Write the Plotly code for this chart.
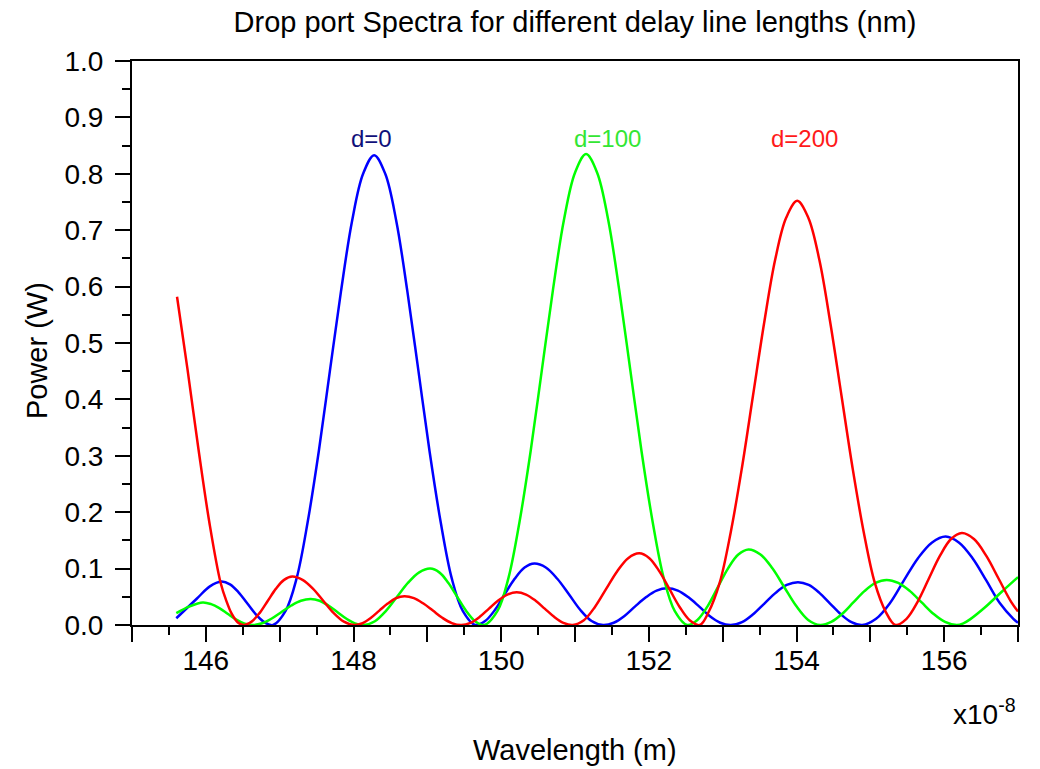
import plotly.graph_objects as go

# ---- data (wavelength in units of 1e-8 m, power in W) ----
blue_x = [145.60, 145.88, 146.05, 146.21, 146.327, 146.443, 146.56, 146.677, 146.793, 146.91,
          147.08, 147.23, 147.38, 147.53, 147.68, 147.83, 147.98, 148.13, 148.28,
          148.43, 148.58, 148.73, 148.88, 149.03, 149.18, 149.33, 149.48, 149.65,
          149.783, 149.917, 150.05, 150.183, 150.317, 150.45,
          150.605, 150.76, 150.915, 151.07, 151.225, 151.38,
          151.525, 151.67, 151.815, 151.96, 152.105, 152.25,
          152.393, 152.537, 152.68, 152.823, 152.967, 153.11,
          153.262, 153.413, 153.565, 153.717, 153.868, 154.02,
          154.165, 154.31, 154.455, 154.60, 154.745, 154.89,
          155.078, 155.267, 155.455, 155.643, 155.832, 156.02,
          156.203, 156.387, 156.57, 156.753, 156.937, 157.00]
blue_y = [0.012, 0.047, 0.068, 0.077, 0.072, 0.058, 0.0385, 0.019, 0.005, 0.000,
          0.025, 0.083, 0.183, 0.308, 0.450, 0.591, 0.716, 0.800, 0.833,
          0.800, 0.716, 0.591, 0.450, 0.308, 0.183, 0.083, 0.025, 0.000,
          0.007, 0.027, 0.055, 0.082, 0.102, 0.109,
          0.102, 0.082, 0.055, 0.027, 0.007, 0.000,
          0.004, 0.016, 0.033, 0.049, 0.061, 0.065,
          0.061, 0.049, 0.033, 0.016, 0.004, 0.000,
          0.005, 0.019, 0.038, 0.057, 0.071, 0.076,
          0.071, 0.057, 0.038, 0.019, 0.005, 0.000,
          0.011, 0.039, 0.079, 0.118, 0.146, 0.157,
          0.146, 0.118, 0.079, 0.039, 0.011, 0.004]

green_x = [145.60, 145.78, 145.96, 146.072, 146.183, 146.295, 146.407, 146.518, 146.63,
           146.762, 146.893, 147.025, 147.157, 147.288, 147.42,
           147.54, 147.66, 147.78, 147.90, 148.02, 148.14,
           148.29, 148.44, 148.59, 148.74, 148.89, 149.04,
           149.162, 149.283, 149.405, 149.527, 149.648, 149.77,
           149.95, 150.10, 150.25, 150.40, 150.55, 150.70, 150.85, 151.00, 151.15,
           151.30, 151.45, 151.60, 151.75, 151.90, 152.05, 152.20, 152.35, 152.52,
           152.658, 152.797, 152.935, 153.073, 153.212, 153.35,
           153.512, 153.673, 153.835, 153.997, 154.158, 154.32,
           154.47, 154.62, 154.77, 154.92, 155.07, 155.22,
           155.378, 155.537, 155.695, 155.853, 156.012, 156.17,
           156.26, 156.35, 156.55, 156.78, 157.00]
green_y = [0.021, 0.033, 0.040, 0.037, 0.030, 0.020, 0.010, 0.003, 0.000,
           0.003, 0.0115, 0.023, 0.0345, 0.043, 0.046,
           0.043, 0.0345, 0.023, 0.0115, 0.003, 0.000,
           0.0067, 0.025, 0.050, 0.075, 0.0933, 0.100,
           0.0933, 0.075, 0.050, 0.025, 0.0067, 0.000,
           0.025, 0.084, 0.184, 0.309, 0.451, 0.593, 0.718, 0.802, 0.835,
           0.802, 0.718, 0.593, 0.451, 0.309, 0.184, 0.084, 0.025, 0.000,
           0.009, 0.0335, 0.067, 0.1005, 0.125, 0.134,
           0.125, 0.1005, 0.067, 0.0335, 0.009, 0.000,
           0.0054, 0.020, 0.040, 0.060, 0.0746, 0.080,
           0.0746, 0.060, 0.040, 0.020, 0.0054, 0.000,
           0.003, 0.010, 0.031, 0.059, 0.085]

red_x = [145.61, 145.75, 145.90, 146.05, 146.20, 146.28, 146.35, 146.43, 146.51,
         146.62, 146.73, 146.84, 146.95, 147.06, 147.17,
         147.31, 147.45, 147.59, 147.73, 147.87, 148.01,
         148.123, 148.237, 148.35, 148.463, 148.577, 148.69,
         148.818, 148.947, 149.075, 149.203, 149.332, 149.46,
         149.585, 149.71, 149.835, 149.96, 150.085, 150.21,
         150.337, 150.463, 150.59, 150.717, 150.843, 150.97,
         151.12, 151.27, 151.42, 151.57, 151.72, 151.87,
         152.007, 152.143, 152.28, 152.417, 152.553, 152.69,
         152.81, 152.96, 153.11, 153.26, 153.41, 153.56, 153.71, 153.86, 154.01,
         154.16, 154.31, 154.46, 154.61, 154.76, 154.91, 155.06, 155.21, 155.34,
         155.49, 155.64, 155.79, 155.94, 156.09, 156.24,
         156.407, 156.573, 156.74, 156.907, 157.00]
red_y = [0.582, 0.455, 0.312, 0.180, 0.075, 0.042, 0.020, 0.005, 0.000,
         0.006, 0.0215, 0.043, 0.0645, 0.080, 0.086,
         0.080, 0.0645, 0.043, 0.0215, 0.006, 0.000,
         0.0034, 0.0128, 0.0255, 0.038, 0.0476, 0.051,
         0.0476, 0.038, 0.0255, 0.0128, 0.0034, 0.000,
         0.0039, 0.0145, 0.029, 0.0435, 0.054, 0.058,
         0.054, 0.0435, 0.029, 0.0145, 0.0039, 0.000,
         0.0085, 0.032, 0.0635, 0.095, 0.1185, 0.127,
         0.1185, 0.095, 0.0635, 0.032, 0.0085, 0.000,
         0.023, 0.075, 0.165, 0.278, 0.406, 0.534, 0.647, 0.722, 0.752,
         0.722, 0.647, 0.534, 0.406, 0.278, 0.165, 0.075, 0.023, 0.000,
         0.011, 0.041, 0.0815, 0.122, 0.152, 0.163,
         0.152, 0.122, 0.0815, 0.041, 0.024]

labels = ["d=0", "d=100", "d=200"]
label_x = [148.25, 151.44, 154.11]
label_y = [0.863, 0.863, 0.863]

x_major = list(range(145, 158))
x_text = [str(v) if v % 2 == 0 else "" for v in x_major]

FONT = "Arial, Liberation Sans, sans-serif"

fig = go.Figure()
series = [(blue_x, blue_y, "#0000ff"), (green_x, green_y, "#00ff00"), (red_x, red_y, "#ff0000")]
for xs, ys, col in series:
    fig.add_trace(go.Scatter(x=xs, y=ys, mode="lines",
                             line=dict(color=col, width=2.5, shape="spline", smoothing=1.0),
                             showlegend=False, hoverinfo="skip"))

label_colors = ["#10107a", "#33e633", "#ff1a1a"]
for t, lx, ly, c in zip(labels, label_x, label_y, label_colors):
    fig.add_annotation(x=lx, y=ly, text=t, showarrow=False, xanchor="center", yanchor="middle",
                       font=dict(family=FONT, size=24, color=c))

fig.add_annotation(xref="paper", yref="paper", x=1.0, y=-0.155, text="x10<sup>-8</sup>",
                   showarrow=False, xanchor="right", yanchor="middle",
                   font=dict(family=FONT, size=28, color="black"))

# axis titles
fig.add_annotation(xref="paper", yref="paper", x=0.5, y=-0.2216, text="Wavelength (m)",
                   showarrow=False, xanchor="center", yanchor="middle",
                   font=dict(family=FONT, size=29, color="black"))
fig.add_annotation(xref="paper", yref="paper", x=-0.107, y=0.486, text="Power (W)",
                   showarrow=False, xanchor="center", yanchor="middle", textangle=-90,
                   font=dict(family=FONT, size=29, color="black"))

fig.update_layout(
    width=1040, height=769,
    margin=dict(l=132, r=22, t=61, b=144),
    plot_bgcolor="white", paper_bgcolor="white",
    title=dict(text="Drop port Spectra for different delay line lengths (nm)",
               x=0.5, xref="paper", y=0.971, yref="container", xanchor="center", yanchor="middle",
               font=dict(family=FONT, size=29, color="black")),
    font=dict(family=FONT, color="black"),
)

fig.update_xaxes(range=[145, 157], tickvals=x_major, ticktext=x_text,
                 ticks="outside", ticklen=15, tickwidth=2, tickcolor="black",
                 minor=dict(dtick=0.5, tick0=145, ticks="outside", ticklen=8, tickwidth=2, tickcolor="black"),
                 showline=True, linecolor="black", linewidth=2, mirror=True,
                 showgrid=False, zeroline=False, automargin=False,
                 tickfont=dict(family=FONT, size=28, color="black"), ticklabelstandoff=-6)
fig.update_yaxes(range=[0, 1], dtick=0.1, tick0=0, tickformat=".1f",
                 ticks="outside", ticklen=15, tickwidth=2, tickcolor="black",
                 minor=dict(dtick=0.05, ticks="outside", ticklen=8, tickwidth=2, tickcolor="black"),
                 showline=True, linecolor="black", linewidth=2, mirror=True,
                 showgrid=False, zeroline=False, automargin=False,
                 tickfont=dict(family=FONT, size=28, color="black"), ticklabelstandoff=6)

fig.write_html("out.html")
